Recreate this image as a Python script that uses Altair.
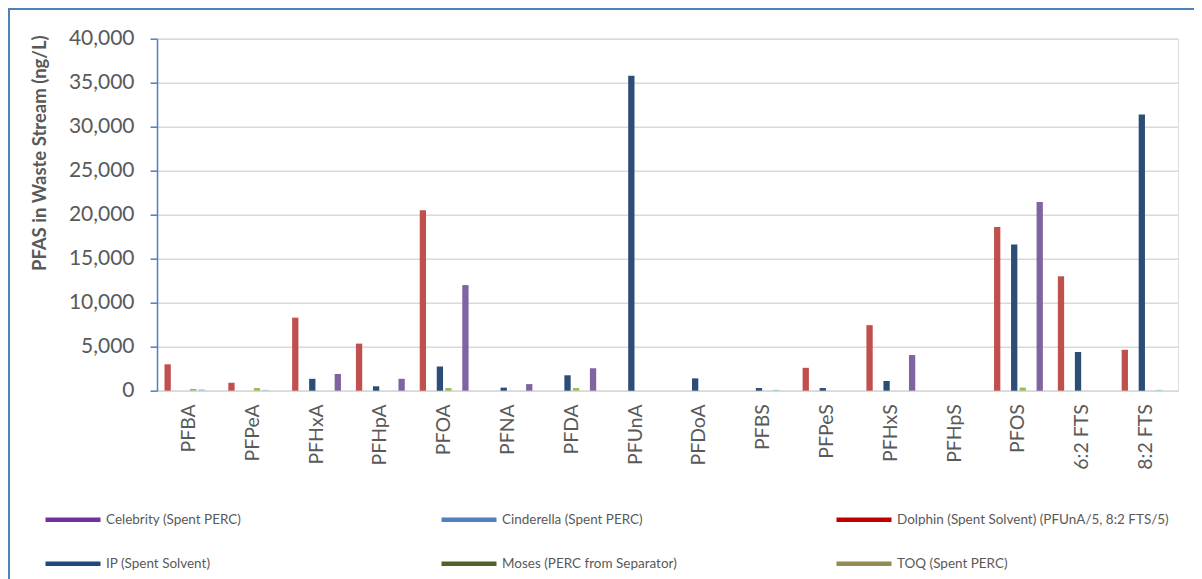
import altair as alt
import pandas as pd

categories = ["PFBA", "PFPeA", "PFHxA", "PFHpA", "PFOA", "PFNA", "PFDA", "PFUnA",
              "PFDoA", "PFBS", "PFPeS", "PFHxS", "PFHpS", "PFOS", "6:2 FTS", "8:2 FTS"]

dolphin = [3000, 900, 8300, 5350, 20500, 0, 0, 0, 0, 0, 2600, 7450, 0, 18600, 13000, 4650]
toq = [0, 0, 0, 0, 0, 0, 0, 0, 0, 0, 0, 0, 0, 0, 0, 0]
ip = [0, 0, 1350, 500, 2750, 350, 1750, 35800, 1400, 300, 300, 1100, 0, 16600, 4400, 31400]
moses = [200, 300, 0, 0, 300, 0, 300, 0, 0, 0, 0, 0, 0, 350, 0, 0]
cinderella = [150, 100, 0, 0, 0, 0, 0, 0, 0, 100, 0, 0, 0, 0, 0, 100]
celebrity = [0, 0, 1900, 1350, 12000, 750, 2550, 0, 0, 0, 0, 4050, 0, 21450, 0, 0]

series_names = [
    "Dolphin (Spent Solvent) (PFUnA/5, 8:2 FTS/5)",
    "TOQ (Spent PERC)",
    "IP (Spent Solvent)",
    "Moses (PERC from Separator)",
    "Cinderella (Spent PERC)",
    "Celebrity (Spent PERC)",
]
series_values = [dolphin, toq, ip, moses, cinderella, celebrity]
bar_colors = ["#C0504D", "#948A54", "#2C4D75", "#9BBB59", "#93CDDD", "#8064A2"]
legend_colors = ["#C00000", "#948A54", "#1F497D", "#4F6228", "#4F81BD", "#7030A0"]

# legend grid slots (column, row) in reference order
legend_slots = {
    "Celebrity (Spent PERC)": (0, 0),
    "Cinderella (Spent PERC)": (1, 0),
    "Dolphin (Spent Solvent) (PFUnA/5, 8:2 FTS/5)": (2, 0),
    "IP (Spent Solvent)": (0, 1),
    "Moses (PERC from Separator)": (1, 1),
    "TOQ (Spent PERC)": (2, 1),
}

rows = []
for name, vals in zip(series_names, series_values):
    for c, v in zip(categories, vals):
        rows.append({"category": c, "series": name, "value": v})
df = pd.DataFrame(rows)

W, H = 1021, 352
FONT = "Lato"
GRAY = "#595959"

x_enc = alt.X("category:N", sort=categories,
              scale=alt.Scale(paddingInner=0.2, paddingOuter=0.1),
              axis=alt.Axis(title=None, labelAngle=-90, ticks=False, labelPadding=13,
                            labelFont=FONT, labelFontSize=19.5, labelColor=GRAY,
                            domainColor="#D9D9D9", domainWidth=1.5, grid=False))

y_enc = alt.Y("value:Q", scale=alt.Scale(domain=[0, 40000], nice=False),
              axis=alt.Axis(title="PFAS in Waste Stream (ng/L)", values=list(range(0, 40001, 5000)),
                            format=",d", labelFont=FONT, labelFontSize=21, labelColor=GRAY,
                            labelPadding=16, tickSize=7, tickWidth=1.5, tickColor="#4F81BD",
                            domainColor="#4F81BD", domainWidth=1.5,
                            gridColor="#D9D9D9", gridWidth=1.5,
                            titleFont=FONT, titleFontSize=18.5, titleFontWeight="bold",
                            titleColor=GRAY, titleX=-108, titleY=114, titleBaseline="bottom"))

bars = alt.Chart(df).mark_bar().encode(
    x=x_enc,
    xOffset=alt.XOffset("series:N", scale=alt.Scale(domain=series_names, paddingInner=0.26, paddingOuter=0.13)),
    y=y_enc,
    color=alt.Color("series:N", scale=alt.Scale(domain=series_names, range=bar_colors), legend=None),
)

col_x = [-114, 282, 677]
row_y = [451, 495]

layers = [bars]
for name, lc in zip(series_names, legend_colors):
    col, row = legend_slots[name]
    lay = alt.Chart(df).transform_filter(
        alt.FieldEqualPredicate(field="series", equal=name)
    ).mark_line(opacity=0).encode(
        x=alt.X("category:N", sort=categories),
        y="value:Q",
        color=alt.Color("series:N", scale=alt.Scale(domain=[name], range=[lc]),
                        legend=alt.Legend(orient="none", legendX=col_x[col], legendY=row_y[row],
                                          title=None, symbolType="stroke", symbolSize=3025,
                                          symbolStrokeWidth=4.5, symbolOpacity=1,
                                          labelFont=FONT, labelFontSize=13.5, labelColor=GRAY,
                                          labelOffset=3, labelLimit=500, padding=0)),
    )
    layers.append(lay)

frame_top = alt.Chart(df).mark_rule(color="#4F81BD", strokeWidth=1.2).encode(
    x=alt.value(-148.5), x2=alt.value(1040), y=alt.value(-29.5))
frame_left = alt.Chart(df).mark_rule(color="#4F81BD", strokeWidth=1.2).encode(
    x=alt.value(-148.5), y=alt.value(-29.5), y2=alt.value(560))
layers += [frame_top, frame_left]

chart = alt.layer(*layers).resolve_scale(color="independent").properties(
    width=W, height=H,
    autosize=alt.AutoSizeParams(type="none"),
    padding={"left": 149, "top": 30.7, "right": 16, "bottom": 188},
).configure_view(stroke=None).configure(background="white")

chart.save("out.html", embed_options={"renderer": "svg", "actions": False})
